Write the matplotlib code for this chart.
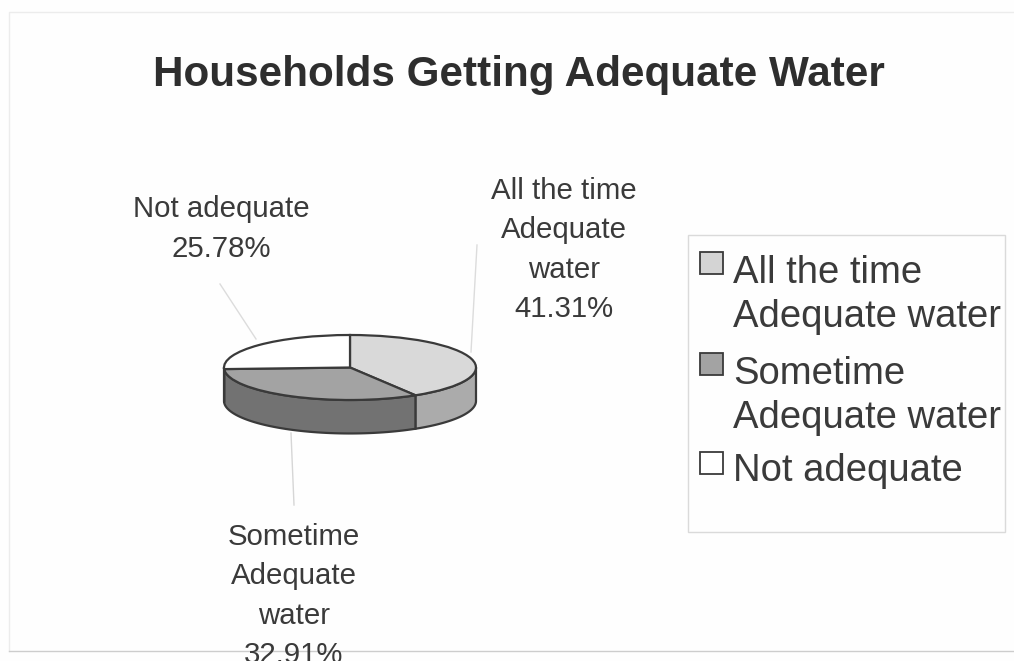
import numpy as np
import matplotlib.pyplot as plt
from matplotlib.patches import Rectangle

plt.rcParams['font.family'] = ['Liberation Sans', 'DejaVu Sans']

# values
title = 'Households Getting Adequate Water'
shares = [41.31, 32.91, 25.78]
slice_labels = ['All the time\nAdequate\nwater', 'Sometime\nAdequate\nwater', 'Not adequate']
legend_labels = ['All the time\nAdequate water', 'Sometime\nAdequate water', 'Not adequate']
top_colors = ['#d9d9d9', '#a3a3a3', '#ffffff']
side_colors = ['#ababab', '#727272', '#ffffff']

W, H = 1014, 661
TEXT = '#3a3a3a'
EDGE = '#3a3a3a'
fig = plt.figure(figsize=(W / 100, H / 100), dpi=100, facecolor='#fefefe')

# overlay in pixel coords for text, frame and leaders
bg = fig.add_axes([0, 0, 1, 1])
bg.set_xlim(0, W)
bg.set_ylim(H, 0)
bg.axis('off')

# chart frame (scan shows only left/top/bottom)
bg.plot([9, 9, 1014], [651, 12, 12], color='#ececec', lw=1)
bg.plot([9, 1014], [651, 651], color='#cdcdcd', lw=1)

bg.text(519, 75, title, ha='center', va='center', fontsize=30.4, fontweight='bold', color='#2e2e2e')

# pie: unit circle squashed into a flat axes
cx, cy, rx, ry, depth = 350, 367.5, 126, 32.5, 1.03
ax = fig.add_axes([(cx - rx) / W, 1 - (cy + ry) / H, 2 * rx / W, 2 * ry / H])
wedges, _ = ax.pie(shares, colors=top_colors, startangle=90, counterclock=False, radius=1,
                   wedgeprops=dict(edgecolor=EDGE, linewidth=1.6, zorder=5))
ax.set_aspect('auto')
ax.set_xlim(-1, 1)
ax.set_ylim(-1, 1)
for w in wedges:
    w.set_clip_on(False)

# side wall, only the front half of the rim shows
edges = 90 - np.cumsum([0] + shares) * 3.6
for i in range(len(shares)):
    lo, hi = max(edges[i + 1], -180), min(edges[i], 0)
    if hi <= lo:
        continue
    t = np.radians(np.linspace(lo, hi, 60))
    xs = np.r_[np.cos(t), np.cos(t[::-1])]
    ys = np.r_[np.sin(t), np.sin(t[::-1]) - depth]
    ax.fill(xs, ys, facecolor=side_colors[i], edgecolor=EDGE, linewidth=1.6, clip_on=False, zorder=2)

# data labels
label_pos = [(564, 250), (294, 596), (221, 229)]
for lab, val, (x, y) in zip(slice_labels, shares, label_pos):
    bg.text(x, y, f'{lab}\n{val:.2f}%', ha='center', va='center', fontsize=21.2,
            color=TEXT, linespacing=1.52, clip_on=False)

# leader lines
bg.plot([477, 471], [245, 352], color='#dcdcdc', lw=1)
bg.plot([220, 256], [284, 339], color='#dcdcdc', lw=1)
bg.plot([291, 294], [433, 505], color='#d6d6d6', lw=1)

# legend
bg.add_patch(Rectangle((688, 235), 317, 297, facecolor='none', edgecolor='#dadada', lw=1))
key_y = [252, 353, 452]
key_fill = ['#d4d4d4', '#a3a3a3', '#ffffff']
text_y = [295, 396, 471]
for lab, fc, ky, ty in zip(legend_labels, key_fill, key_y, text_y):
    bg.add_patch(Rectangle((700, ky), 23, 22, facecolor=fc, edgecolor=EDGE, lw=1.3))
    bg.text(733, ty, lab, ha='left', va='center', fontsize=27.5, color=TEXT, linespacing=1.27)

fig.savefig('out.png', dpi=100, facecolor=fig.get_facecolor())
